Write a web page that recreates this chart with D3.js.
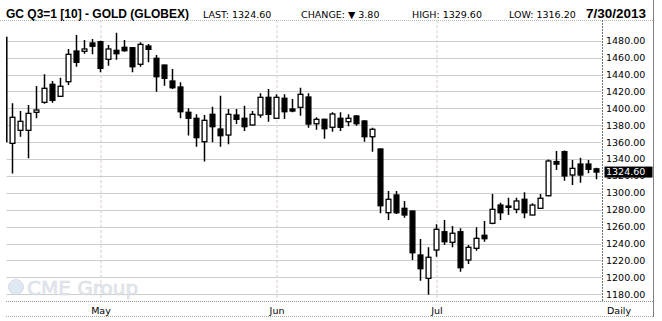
<!DOCTYPE html>
<html>
<head>
<meta charset="utf-8">
<script src="https://cdnjs.cloudflare.com/ajax/libs/d3/7.8.5/d3.min.js"></script>
<style>
	body { margin: 0; background: #fff; }
	text { font-family: "DejaVu Sans", Verdana, sans-serif; }
	.bold { font-family: "Liberation Sans", Arial, sans-serif; font-weight: bold; }
</style>
</head>
<body>
<svg id="chart" width="662" height="321"></svg>
<script>
'use strict';

// Trading days shown on the chart (Apr 15 - Jul 30 2013)
var dates = [
	'2013-04-15', '2013-04-16', '2013-04-17', '2013-04-18', '2013-04-19', '2013-04-22', '2013-04-23',
	'2013-04-24', '2013-04-25', '2013-04-26', '2013-04-29', '2013-04-30',
	'2013-05-01', '2013-05-02', '2013-05-03', '2013-05-06', '2013-05-07', '2013-05-08', '2013-05-09',
	'2013-05-10', '2013-05-13', '2013-05-14', '2013-05-15', '2013-05-16', '2013-05-17', '2013-05-20',
	'2013-05-21', '2013-05-22', '2013-05-23', '2013-05-24', '2013-05-28', '2013-05-29', '2013-05-30',
	'2013-05-31',
	'2013-06-03', '2013-06-04', '2013-06-05', '2013-06-06', '2013-06-07', '2013-06-10', '2013-06-11',
	'2013-06-12', '2013-06-13', '2013-06-14', '2013-06-17', '2013-06-18', '2013-06-19', '2013-06-20',
	'2013-06-21', '2013-06-24', '2013-06-25', '2013-06-26', '2013-06-27', '2013-06-28',
	'2013-07-01', '2013-07-02', '2013-07-03', '2013-07-05', '2013-07-08', '2013-07-09', '2013-07-10',
	'2013-07-11', '2013-07-12', '2013-07-15', '2013-07-16', '2013-07-17', '2013-07-18', '2013-07-19',
	'2013-07-22', '2013-07-23', '2013-07-24', '2013-07-25', '2013-07-26', '2013-07-29', '2013-07-30'
];

var open = [
	1484, 1358.6, 1374, 1374, 1395.3, 1407.1, 1428.4, 1414.2, 1431.5, 1467.8, 1467.5, 1477.3,
	1478.8, 1458, 1468.6, 1472.2, 1471.7, 1452.1, 1473.7, 1459.2, 1451.2, 1432.3, 1425.2, 1395.3,
	1388.2, 1360.5, 1392.9, 1375.5, 1368.4, 1392.1, 1388.2, 1380.3, 1392.1, 1413,
	1388.2, 1411.9, 1399.2, 1401.2, 1413.4, 1381.8, 1387, 1377.6, 1388.2, 1384.2, 1390.9, 1385,
	1366.4, 1351.9, 1276.5, 1297.5, 1281.7, 1278.5, 1226.5, 1198.9,
	1232.4, 1254, 1241.5, 1254, 1220.6, 1234.4, 1249.8, 1264, 1285.6, 1284.4, 1280.5, 1292.4,
	1273.8, 1281.7, 1296.6, 1337, 1348.7, 1321.1, 1334.1, 1334.1, 1328.4
];
var high = [
	1490, 1406, 1396.8, 1404, 1426.4, 1440.3, 1432.3, 1436.2, 1470.2, 1486.7, 1480.8, 1482,
	1480, 1474.9, 1489.5, 1480.8, 1472.5, 1478.1, 1476.1, 1463.1, 1451.5, 1446.5, 1430.8, 1400,
	1392.9, 1392.1, 1401.9, 1414.9, 1399.2, 1399.2, 1403.1, 1396.8, 1417.8, 1422.9,
	1416.6, 1416.6, 1411, 1424.4, 1417.8, 1389.4, 1387.7, 1395.3, 1395.3, 1392.9, 1392.1, 1386.2,
	1377.1, 1352.5, 1302.2, 1302.2, 1290.4, 1279, 1245.4, 1235.6,
	1262.8, 1267.9, 1260.8, 1258.1, 1238.3, 1259.3, 1266.7, 1298.6, 1288.4, 1294.3, 1294.3, 1300.7,
	1287.6, 1298.6, 1339.5, 1349.5, 1350, 1338.9, 1341.6, 1338.9, 1329.6
];
var low = [
	1321, 1323, 1366.4, 1341, 1388.2, 1405.5, 1406.7, 1414, 1427.6, 1449.2, 1464.6, 1463.9,
	1442.6, 1450.4, 1457.5, 1467, 1442.6, 1449.2, 1454.4, 1419.7, 1426.8, 1422.9, 1388.2, 1368,
	1354.6, 1337, 1359.8, 1354.6, 1357.4, 1381.4, 1373.2, 1380, 1388.9, 1384.2,
	1388, 1387.4, 1395.3, 1391.3, 1377.1, 1374.7, 1364.1, 1372.3, 1373.2, 1378.7, 1379.4, 1360.5,
	1348.7, 1275.8, 1267.9, 1275, 1270.6, 1220.6, 1196.1, 1179.5,
	1224.5, 1238.3, 1235.6, 1206.7, 1215.8, 1231.6, 1242.2, 1262.8, 1267.9, 1273.8, 1275.8, 1269.9,
	1273.5, 1281.4, 1296, 1327, 1314.4, 1309.3, 1312, 1323.1, 1316.2
];
var close = [
	1360.5, 1389.4, 1384.6, 1394, 1398, 1423.7, 1409.5, 1426.1, 1463.9, 1454.4, 1470.2, 1473.4,
	1447.3, 1470.2, 1464.6, 1468.2, 1449.2, 1475.7, 1469.8, 1437.4, 1435.5, 1424.4, 1396, 1388.2,
	1365.3, 1385.8, 1378.3, 1367.6, 1392.9, 1387, 1378.3, 1392.9, 1413, 1392.9,
	1413, 1396, 1396.8, 1416.6, 1381.4, 1387, 1375.9, 1393.3, 1377.6, 1388.2, 1381.8, 1366.4,
	1375.2, 1284.8, 1292.4, 1276.5, 1273.8, 1229.2, 1210.3, 1223.8,
	1256.9, 1242.2, 1252.2, 1211.5, 1235.6, 1246.2, 1245.8, 1280.5, 1276.5, 1282.9, 1290.4, 1276.5,
	1285.6, 1293.6, 1337.7, 1334, 1320, 1329, 1321.1, 1327.9, 1324.6
];

// Price axis ticks and month labels along the bottom
var price_ticks = [1180, 1200, 1220, 1240, 1260, 1280, 1300, 1320, 1340, 1360, 1380, 1400, 1420, 1440, 1460, 1480];
var month_starts = ['2013-05-01', '2013-06-03', '2013-07-01'];
var month_labels = ['May', 'Jun', 'Jul'];

// Header quote values
var quote_symbol = 'GC Q3=1 [10] - GOLD (GLOBEX)';
var quote_last = 1324.60;
var quote_change = 3.80;
var quote_high = 1329.60;
var quote_low = 1316.20;
var quote_date = '7/30/2013';


//===============================================================
// Draw the chart
//===============================================================

var svg = d3.select('#chart');
var plot = { left: 6.5, right: 602.5, top: 20, bottom: 301.5 };

var x_scale = d3.scalePoint()
	.domain(dates)
	.range([4.5, 596.5]);

var y_scale = d3.scaleLinear()
	.domain([1180, 1480])
	.range([294.3, 40.7]);

var fmt = d3.format('.2f');

svg.append('rect')
	.attr('width', 662).attr('height', 321)
	.attr('fill', '#fff');

// Header
var header = svg.append('g');
header.append('text').attr('class', 'bold')
	.attr('x', 6).attr('y', 17.5)
	.attr('font-size', '12px')
	.text(quote_symbol);
header.append('text')
	.attr('x', 203).attr('y', 17.5).attr('font-size', '9.5px')
	.text('LAST: ' + fmt(quote_last));
header.append('text')
	.attr('x', 301).attr('y', 17.5).attr('font-size', '9.5px')
	.text('CHANGE: \u25BC ' + fmt(quote_change));
header.append('text')
	.attr('x', 412).attr('y', 17.5).attr('font-size', '9.5px')
	.text('HIGH: ' + fmt(quote_high));
header.append('text')
	.attr('x', 509).attr('y', 17.5).attr('font-size', '9.5px')
	.text('LOW: ' + fmt(quote_low));
header.append('text').attr('class', 'bold')
	.attr('x', 586).attr('y', 17.5)
	.attr('font-size', '13.5px')
	.text(quote_date);

// Frame lines
svg.append('line')
	.attr('x1', 0).attr('x2', 654).attr('y1', 20.5).attr('y2', 20.5)
	.attr('stroke', '#b8b8b8').attr('stroke-dasharray', '1,1');
svg.append('line')
	.attr('x1', 653.5).attr('x2', 653.5).attr('y1', 0).attr('y2', 317)
	.attr('stroke', '#808080');
svg.append('line')
	.attr('x1', 6).attr('x2', 654).attr('y1', 301.5).attr('y2', 301.5)
	.attr('stroke', '#909090').attr('stroke-dasharray', '1,1');
svg.append('line')
	.attr('x1', 6).attr('x2', 654).attr('y1', 316.5).attr('y2', 316.5)
	.attr('stroke', '#a8a8a8').attr('stroke-dasharray', '1,1');
svg.append('line')
	.attr('x1', plot.right).attr('x2', plot.right).attr('y1', plot.top).attr('y2', plot.bottom)
	.attr('stroke', '#707070').attr('stroke-dasharray', '2,1');

// Grid lines
svg.append('g').selectAll('line.hgrid')
	.data(price_ticks)
	.enter().append('line')
	.attr('class', 'hgrid')
	.attr('x1', plot.left).attr('x2', plot.right - 1)
	.attr('y1', function(d) { return Math.round(y_scale(d)) + 0.5; })
	.attr('y2', function(d) { return Math.round(y_scale(d)) + 0.5; })
	.attr('stroke', '#c9cfc9');

svg.append('g').selectAll('line.vgrid')
	.data(month_starts)
	.enter().append('line')
	.attr('class', 'vgrid')
	.attr('x1', function(d) { return x_scale(d) + 0.5; })
	.attr('x2', function(d) { return x_scale(d) + 0.5; })
	.attr('y1', plot.top).attr('y2', plot.bottom)
	.attr('stroke', '#dcc8dc').attr('stroke-dasharray', '3,2');

// CME Group watermark
var mark = svg.append('g').attr('opacity', 0.9);
mark.append('circle')
	.attr('cx', 16).attr('cy', 287).attr('r', 7.5)
	.attr('fill', '#dde6f0').attr('stroke', '#d0dbe8');
mark.append('text')
	.attr('x', 27).attr('y', 295)
	.attr('font-family', '"Liberation Sans", Arial, sans-serif')
	.attr('font-size', '20px')
	.attr('fill', '#e2e6ec').attr('stroke', '#d3d9e2').attr('stroke-width', 0.6)
	.text('CME Group');

// Candles
var candles = d3.range(dates.length);

svg.append('clipPath').attr('id', 'plotclip')
	.append('rect')
	.attr('x', plot.left - 0.5).attr('y', plot.top)
	.attr('width', plot.right - plot.left).attr('height', plot.bottom - plot.top);

var candle_layer = svg.append('g').attr('clip-path', 'url(#plotclip)');

candle_layer.selectAll('line.wick')
	.data(candles)
	.enter().append('line')
	.attr('class', 'wick')
	.attr('x1', function(i) { return x_scale(dates[i]); })
	.attr('x2', function(i) { return x_scale(dates[i]); })
	.attr('y1', function(i) { return y_scale(high[i]); })
	.attr('y2', function(i) { return y_scale(low[i]); })
	.attr('stroke', '#000')
	.attr('stroke-width', 1.5);

candle_layer.selectAll('rect.body')
	.data(candles)
	.enter().append('rect')
	.attr('class', 'body')
	.attr('x', function(i) { return x_scale(dates[i]) - 2.4; })
	.attr('width', 4.8)
	.attr('y', function(i) { return y_scale(Math.max(open[i], close[i])); })
	.attr('height', function(i) { return Math.max(1, Math.abs(y_scale(open[i]) - y_scale(close[i]))); })
	.attr('fill', function(i) { return close[i] >= open[i] ? '#fff' : '#000'; })
	.attr('stroke', '#000')
	.attr('stroke-width', 1.3);

// Price axis labels
svg.append('g').selectAll('text.ylabel')
	.data(price_ticks)
	.enter().append('text')
	.attr('class', 'ylabel')
	.attr('x', 606)
	.attr('y', function(d) { return y_scale(d); })
	.attr('dy', '0.36em')
	.attr('font-size', '9.5px')
	.text(function(d) { return fmt(d); });

// Last price tag
svg.append('rect')
	.attr('x', 604.5).attr('width', 48)
	.attr('y', y_scale(quote_last) - 5.5).attr('height', 11)
	.attr('fill', '#000');
svg.append('text')
	.attr('x', 606)
	.attr('y', y_scale(quote_last))
	.attr('dy', '0.36em')
	.attr('font-size', '9.5px')
	.attr('fill', '#fff')
	.text(fmt(quote_last));

// Month labels and period
svg.append('g').selectAll('text.xlabel')
	.data(month_starts)
	.enter().append('text')
	.attr('class', 'xlabel')
	.attr('x', function(d) { return x_scale(d) + 0.5; })
	.attr('y', 314)
	.attr('text-anchor', 'middle')
	.attr('font-size', '9.5px')
	.text(function(d, i) { return month_labels[i]; });

svg.append('text')
	.attr('x', 607).attr('y', 314)
	.attr('font-size', '9.5px')
	.text('Daily');
</script>
</body>
</html>
